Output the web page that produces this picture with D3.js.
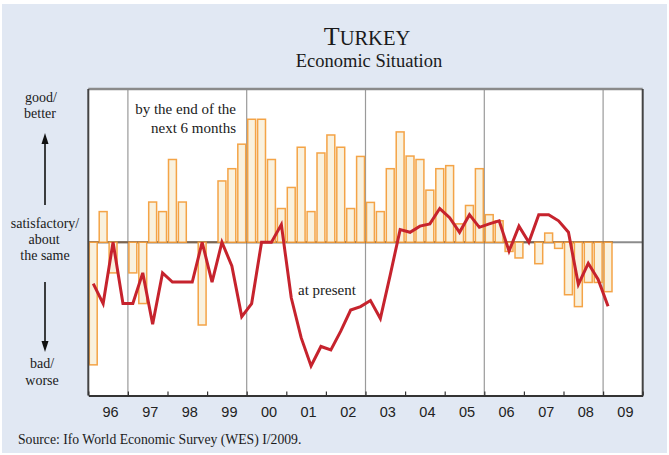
<!DOCTYPE html>
<html>
<head>
<meta charset="utf-8">
<script src="https://cdn.jsdelivr.net/npm/d3@7"></script>
<style>
  html, body { margin: 0; padding: 0; background: #ffffff; }
  svg { display: block; }
</style>
</head>
<body>
<div id="chart"></div>
<script>
// Survey years covered and quarterly categories (Q1 1996 .. Q1 2009)
const years = [1996, 1997, 1998, 1999, 2000, 2001, 2002, 2003, 2004, 2005, 2006, 2007, 2008, 2009];
const quarters = years.flatMap(y => [1, 2, 3, 4].map(q => ({ year: y, q })))
  .slice(0, 53);

// Expectations for the next 6 months (bars), scale 1 (bad) .. 9 (good), 5 = satisfactory
const expectations = [
  1.8, 5.8, 4.2, 5.0,
  4.2, 3.4, 6.05, 5.8,
  7.16, 6.05, 5.0, 2.84,
  5.0, 6.6, 6.92, 7.56,
  8.21, 8.21, 7.16, 5.88,
  6.43, 7.48, 5.8, 7.33,
  7.8, 7.48, 5.88, 7.24,
  6.04, 5.8, 6.92, 7.88,
  7.25, 7.16, 6.36, 6.92,
  7.0, 5.48, 5.96, 6.92,
  5.72, 5.56, 4.76, 4.59,
  5.0, 4.44, 5.24, 4.84,
  3.63, 3.32, 3.95, 3.95,
  3.71
];

// Present economic situation (line)
const present = [
  3.92, 3.4, 5.0, 3.4,
  3.4, 4.2, 2.86, 4.2,
  3.96, 3.96, 3.96, 5.0,
  3.96, 5.0, 4.38, 3.06,
  3.4, 5.0, 5.0, 5.46,
  3.55, 2.51, 1.77, 2.28,
  2.19, 2.68, 3.23, 3.32,
  3.48, 3.01, 4.15, 5.33,
  5.26, 5.42, 5.48, 5.88,
  5.64, 5.26, 5.72, 5.39,
  5.48, 5.56, 4.77, 5.42,
  5.0, 5.72, 5.72, 5.56,
  5.26, 3.9, 4.45, 4.03,
  3.33
];

const yearLabels = ["96", "97", "98", "99", "00", "01", "02", "03", "04", "05", "06", "07", "08", "09"];
const gridYears = [1997, 2000, 2003, 2006, 2009];
const neutral = 5;

const W = 669, H = 455;
const plot = { left: 88.3, right: 642.7, top: 89, bottom: 395.5 };

const svg = d3.select("#chart").append("svg")
  .attr("width", W).attr("height", H);

// Panel background
svg.append("rect")
  .attr("x", 2).attr("y", 4).attr("width", 665).attr("height", 449)
  .attr("fill", "#e1e8f3");

const x = d3.scaleLinear().domain([1996, 2010]).range([plot.left, plot.right]);
const y = d3.scaleLinear().domain([1, 9]).range([plot.bottom, plot.top]);
const qx = d => d.year + (d.q - 1) / 4;
const qw = x(1996.25) - x(1996);

// Plot area
svg.append("rect")
  .attr("x", plot.left).attr("y", plot.top)
  .attr("width", plot.right - plot.left).attr("height", plot.bottom - plot.top)
  .attr("fill", "#ffffff");

// Vertical separators every three years
svg.append("g").selectAll("line").data(gridYears).join("line")
  .attr("x1", d => x(d)).attr("x2", d => x(d))
  .attr("y1", plot.top).attr("y2", plot.bottom)
  .attr("stroke", "#9a9a9a").attr("stroke-width", 1.2);

// Neutral line
svg.append("line")
  .attr("x1", plot.left).attr("x2", plot.right)
  .attr("y1", y(neutral)).attr("y2", y(neutral))
  .attr("stroke", "#8c8c8c").attr("stroke-width", 2);
svg.append("line")
  .attr("x1", plot.left).attr("x2", x(2009.25))
  .attr("y1", y(neutral)).attr("y2", y(neutral))
  .attr("stroke", "#7d6650").attr("stroke-width", 2);

// Expectation bars
svg.append("g").selectAll("rect").data(quarters.map((d, i) => ({ ...d, v: expectations[i] })))
  .join("rect")
  .filter(d => d.v !== neutral)
  .attr("x", d => x(qx(d)) + 1)
  .attr("width", qw - 2)
  .attr("y", d => Math.min(y(d.v), y(neutral)))
  .attr("height", d => Math.abs(y(d.v) - y(neutral)))
  .attr("fill", "#f9f1de")
  .attr("stroke", "#f39a34")
  .attr("stroke-opacity", 0.9)
  .attr("stroke-width", 1.5);

// Present situation line
const line = d3.line()
  .x((d, i) => x(qx(quarters[i]) + 0.125))
  .y(d => y(d));
svg.append("path")
  .datum(present)
  .attr("d", line)
  .attr("fill", "none")
  .attr("stroke", "#c6232d")
  .attr("stroke-width", 3)
  .attr("stroke-linejoin", "miter");

// Frame
svg.append("line").attr("x1", plot.left).attr("x2", plot.right)
  .attr("y1", plot.top).attr("y2", plot.top)
  .attr("stroke", "#8a8a8a").attr("stroke-width", 2.4);
svg.append("line").attr("x1", plot.left).attr("x2", plot.left)
  .attr("y1", plot.top).attr("y2", plot.bottom)
  .attr("stroke", "#444").attr("stroke-width", 2);
svg.append("line").attr("x1", plot.right).attr("x2", plot.right)
  .attr("y1", plot.top).attr("y2", plot.bottom)
  .attr("stroke", "#444").attr("stroke-width", 2);

// Bottom axis with inner year ticks
const xAxis = d3.axisBottom(x)
  .tickValues(d3.range(1996, 2011))
  .tickSize(-4)
  .tickSizeOuter(0)
  .tickFormat("");
const ax = svg.append("g")
  .attr("transform", `translate(0,${plot.bottom})`)
  .call(xAxis);
ax.select(".domain").attr("stroke", "#333").attr("stroke-width", 2);
ax.selectAll(".tick line").attr("stroke", "#333").attr("stroke-width", 1.2);

svg.append("g").selectAll("text").data(yearLabels).join("text")
  .attr("x", (d, i) => x(years[i] + 0.5) + 2.5)
  .attr("y", 417)
  .attr("text-anchor", "middle")
  .attr("font-family", "Liberation Sans, Arial, sans-serif")
  .attr("font-size", 14.5)
  .attr("fill", "#222")
  .text(d => d);

// Title
const serif = "Liberation Serif, Times New Roman, serif";
const title = svg.append("text")
  .attr("x", 367).attr("y", 45)
  .attr("text-anchor", "middle")
  .attr("font-family", serif)
  .attr("fill", "#1a1a1a");
title.append("tspan").attr("font-size", 26).text("T");
title.append("tspan").attr("font-size", 20.5).text("URKEY");

svg.append("text")
  .attr("x", 369).attr("y", 67)
  .attr("text-anchor", "middle")
  .attr("font-family", serif)
  .attr("font-size", 18.5)
  .attr("fill", "#1a1a1a")
  .text("Economic Situation");

// Left scale descriptions
const leftLabels = [
  { t: "good/", x: 41, y: 102 },
  { t: "better", x: 40, y: 118 },
  { t: "satisfactory/", x: 45, y: 228 },
  { t: "about", x: 44, y: 244 },
  { t: "the same", x: 45, y: 260 },
  { t: "bad/", x: 42, y: 368 },
  { t: "worse", x: 42, y: 385 }
];
svg.append("g").selectAll("text").data(leftLabels).join("text")
  .attr("x", d => d.x).attr("y", d => d.y)
  .attr("text-anchor", "middle")
  .attr("font-family", serif)
  .attr("font-size", 14)
  .attr("fill", "#1a1a1a")
  .text(d => d.t);

// Arrows
const arrows = svg.append("g").attr("fill", "#111").attr("stroke", "#111");
arrows.append("line").attr("x1", 45).attr("x2", 45).attr("y1", 205).attr("y2", 142).attr("stroke-width", 1.6);
arrows.append("path").attr("d", "M45,133 L41.5,144 L48.5,144 Z").attr("stroke", "none");
arrows.append("line").attr("x1", 45).attr("x2", 45).attr("y1", 282).attr("y2", 343).attr("stroke-width", 1.6);
arrows.append("path").attr("d", "M45,352 L41.5,341 L48.5,341 Z").attr("stroke", "none");

// Series annotations
const note = svg.append("g")
  .attr("font-family", serif)
  .attr("font-size", 15)
  .attr("fill", "#1a1a1a");
note.append("text").attr("x", 236).attr("y", 114).attr("text-anchor", "end").text("by the end of the");
note.append("text").attr("x", 236).attr("y", 133).attr("text-anchor", "end").text("next 6 months");
note.append("text").attr("x", 298).attr("y", 295).text("at present");

// Source
svg.append("text")
  .attr("x", 18).attr("y", 444)
  .attr("font-family", serif)
  .attr("font-size", 13.7)
  .attr("fill", "#1a1a1a")
  .text("Source: Ifo World Economic Survey (WES) I/2009.");
</script>
</body>
</html>
